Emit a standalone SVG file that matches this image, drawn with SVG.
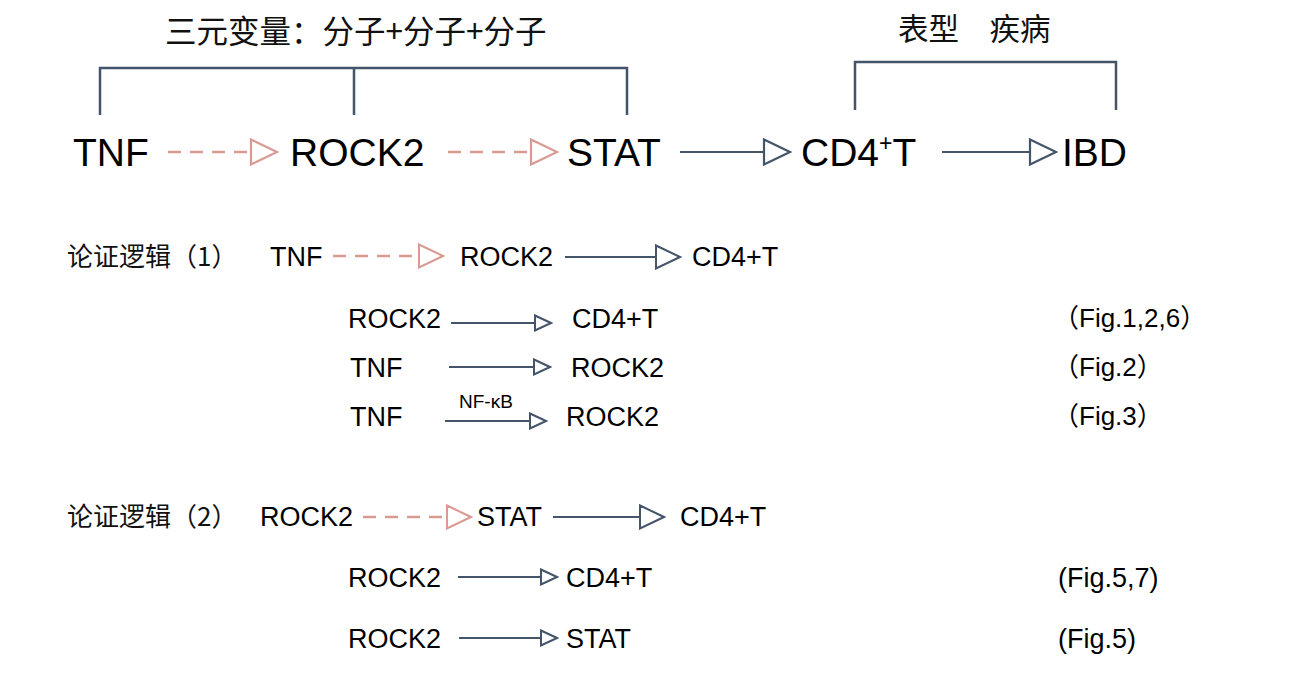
<svg xmlns="http://www.w3.org/2000/svg" width="1294" height="698" viewBox="0 0 1294 698">
<style>
.en{font-family:"Liberation Sans",Arial,"Noto Sans CJK SC",sans-serif;fill:#000}
.cn{font-family:"Noto Sans CJK SC","Liberation Sans",sans-serif;fill:#111}
.big{font-size:39px}
.mid{font-size:27px}
.fig{font-size:26px}
.br{fill:none;stroke:#44546A;stroke-width:2.5}
.sl{fill:none;stroke:#44546A;stroke-width:2.2}
.ds{fill:none;stroke:#D99A92;stroke-width:2.4;stroke-dasharray:13 9}
</style>
<defs>
<marker id="hBigS" viewBox="0 0 30 28" refX="28" refY="14" markerWidth="30" markerHeight="28" markerUnits="userSpaceOnUse" orient="auto">
<path d="M2,1.5 L28,14 L2,26.5 Z" fill="#fff" stroke="#D99A92" stroke-width="2.2"/>
</marker>
<marker id="hBigL" viewBox="0 0 30 28" refX="28" refY="14" markerWidth="30" markerHeight="28" markerUnits="userSpaceOnUse" orient="auto">
<path d="M2,1.5 L28,14 L2,26.5 Z" fill="#fff" stroke="#44546A" stroke-width="2.2"/>
</marker>
<marker id="hMidS" viewBox="0 0 28 26" refX="26" refY="13" markerWidth="28" markerHeight="26" markerUnits="userSpaceOnUse" orient="auto">
<path d="M2,1.5 L26,13 L2,24.5 Z" fill="#fff" stroke="#D99A92" stroke-width="2"/>
</marker>
<marker id="hMidL" viewBox="0 0 28 26" refX="26" refY="13" markerWidth="28" markerHeight="26" markerUnits="userSpaceOnUse" orient="auto">
<path d="M2,1.5 L26,13 L2,24.5 Z" fill="#fff" stroke="#44546A" stroke-width="2"/>
</marker>
<marker id="hSm" viewBox="0 0 20 18" refX="18" refY="9" markerWidth="20" markerHeight="18" markerUnits="userSpaceOnUse" orient="auto">
<path d="M2,1.5 L18,9 L2,16.5 Z" fill="#fff" stroke="#44546A" stroke-width="2"/>
</marker>
</defs>

<g id="brackets">
<path class="br" d="M100,115 V68 H627 V115 M354,68 V115"/>
<path class="br" d="M855,110 V62 H1116 V110"/>
</g>
<g id="headings">
<text class="cn" x="165" y="43" font-size="31.5">三元变量：分子+分子+分子</text>
<text class="cn" x="898" y="40" font-size="30.5">表型　疾病</text>
</g>

<g id="top-nodes">
<g id="n-tnf"><text class="en big" x="73" y="166">TNF</text></g>
<g id="n-rock2"><text class="en big" x="290" y="166">ROCK2</text></g>
<g id="n-stat"><text class="en big" x="567" y="166">STAT</text></g>
<g id="n-cd4t"><text class="en big" x="801" y="166">CD4<tspan font-size="23" dy="-15">+</tspan><tspan dy="15">T</tspan></text></g>
<g id="n-ibd"><text class="en big" x="1062" y="166">IBD</text></g>
</g>

<g id="logic1">
<g id="l1-label"><text class="cn" x="67" y="266" font-size="26">论证逻辑（1）</text></g>
<g id="l1-tnf"><text class="en mid" x="270" y="266">TNF</text></g>
<g id="l1-rock2"><text class="en mid" x="460" y="266">ROCK2</text></g>
<g id="l1-cd4t"><text class="en mid" x="692" y="266">CD4+T</text></g>
<g id="r1"><text class="en mid" x="348" y="328">ROCK2</text><text class="en mid" x="572" y="328">CD4+T</text><text class="en fig" x="1053" y="327">（Fig.1,2,6）</text></g>
<g id="r2"><text class="en mid" x="350" y="377">TNF</text><text class="en mid" x="571" y="377">ROCK2</text><text class="en fig" x="1053" y="376">（Fig.2）</text></g>
<g id="r3"><text class="en mid" x="350" y="426">TNF</text><text class="en" x="459" y="408" font-size="19">NF-κB</text><text class="en mid" x="566" y="426">ROCK2</text><text class="en fig" x="1053" y="425">（Fig.3）</text></g>
</g>

<g id="logic2">
<g id="l2-label"><text class="cn" x="67" y="526" font-size="26">论证逻辑（2）</text></g>
<g id="l2-rock2"><text class="en mid" x="260" y="526">ROCK2</text></g>
<g id="l2-stat"><text class="en mid" x="477" y="526">STAT</text></g>
<g id="l2-cd4t"><text class="en mid" x="680" y="526">CD4+T</text></g>
<g id="r4"><text class="en mid" x="348" y="587">ROCK2</text><text class="en mid" x="566" y="587">CD4+T</text><text class="en mid" x="1058" y="587">(Fig.5,7)</text></g>
<g id="r5"><text class="en mid" x="348" y="648">ROCK2</text><text class="en mid" x="566" y="648">STAT</text><text class="en mid" x="1058" y="648">(Fig.5)</text></g>
</g>

<g id="connectors">
<line class="ds" x1="168" y1="152" x2="250" y2="152"/>
<line x1="248" y1="152" x2="277" y2="152" stroke="none" marker-end="url(#hBigS)"/>
<line class="ds" x1="448" y1="152" x2="530" y2="152"/>
<line x1="528" y1="152" x2="557" y2="152" stroke="none" marker-end="url(#hBigS)"/>
<line class="sl" x1="680" y1="152" x2="790" y2="152" marker-end="url(#hBigL)"/>
<line class="sl" x1="942" y1="152" x2="1056" y2="152" marker-end="url(#hBigL)"/>

<line class="ds" x1="333" y1="256" x2="417" y2="256"/>
<line x1="415" y1="256" x2="443" y2="256" stroke="none" marker-end="url(#hMidS)"/>
<line class="sl" x1="565" y1="257" x2="680" y2="257" marker-end="url(#hMidL)"/>
<line class="sl" x1="451" y1="323" x2="551" y2="323" marker-end="url(#hSm)"/>
<line class="sl" x1="449" y1="367" x2="550" y2="367" marker-end="url(#hSm)"/>
<line class="sl" x1="445" y1="421" x2="546" y2="421" marker-end="url(#hSm)"/>

<line class="ds" x1="363" y1="517" x2="447" y2="517"/>
<line x1="445" y1="517" x2="471" y2="517" stroke="none" marker-end="url(#hMidS)"/>
<line class="sl" x1="553" y1="517" x2="664" y2="517" marker-end="url(#hMidL)"/>
<line class="sl" x1="458" y1="577" x2="557" y2="577" marker-end="url(#hSm)"/>
<line class="sl" x1="459" y1="638" x2="557" y2="638" marker-end="url(#hSm)"/>
</g>
</svg>
